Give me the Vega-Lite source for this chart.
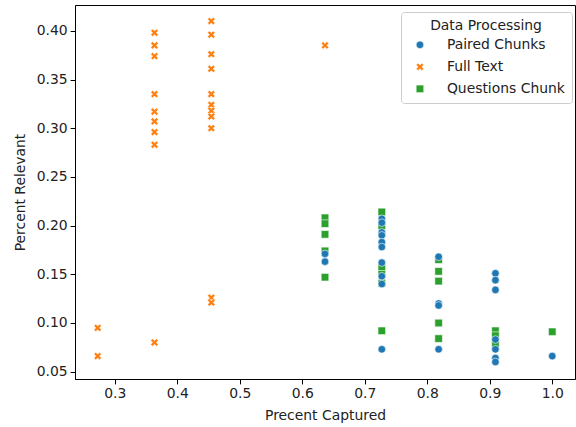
{
  "$schema": "https://vega.github.io/schema/vega-lite/v6.json",
  "width": 500,
  "height": 374,
  "autosize": "none",
  "padding": {"left": 75, "top": 5, "right": 1, "bottom": 48},
  "config": {
    "view": {"stroke": "black", "strokeWidth": 1},
    "font": "DejaVu Sans",
    "axis": {
      "grid": false,
      "domainColor": "black",
      "tickColor": "black",
      "tickSize": 4.9,
      "labelFontSize": 13.9,
      "labelColor": "#222",
      "titleFontSize": 13.9,
      "titleFontWeight": "normal",
      "titleColor": "#222",
      "labelFont": "DejaVu Sans",
      "titleFont": "DejaVu Sans",
      "labelPadding": 3
    },
    "legend": {
      "labelFont": "DejaVu Sans",
      "titleFont": "DejaVu Sans"
    }
  },
  "data": {
    "values": [
      {"captured": 0.6364, "relevant": 0.208, "method": "Questions Chunk"},
      {"captured": 0.6364, "relevant": 0.202, "method": "Questions Chunk"},
      {"captured": 0.6364, "relevant": 0.191, "method": "Questions Chunk"},
      {"captured": 0.6364, "relevant": 0.174, "method": "Questions Chunk"},
      {"captured": 0.6364, "relevant": 0.147, "method": "Questions Chunk"},
      {"captured": 0.7273, "relevant": 0.214, "method": "Questions Chunk"},
      {"captured": 0.7273, "relevant": 0.200, "method": "Questions Chunk"},
      {"captured": 0.7273, "relevant": 0.157, "method": "Questions Chunk"},
      {"captured": 0.7273, "relevant": 0.150, "method": "Questions Chunk"},
      {"captured": 0.7273, "relevant": 0.141, "method": "Questions Chunk"},
      {"captured": 0.7273, "relevant": 0.092, "method": "Questions Chunk"},
      {"captured": 0.8182, "relevant": 0.165, "method": "Questions Chunk"},
      {"captured": 0.8182, "relevant": 0.153, "method": "Questions Chunk"},
      {"captured": 0.8182, "relevant": 0.143, "method": "Questions Chunk"},
      {"captured": 0.8182, "relevant": 0.100, "method": "Questions Chunk"},
      {"captured": 0.8182, "relevant": 0.084, "method": "Questions Chunk"},
      {"captured": 0.9091, "relevant": 0.092, "method": "Questions Chunk"},
      {"captured": 0.9091, "relevant": 0.087, "method": "Questions Chunk"},
      {"captured": 0.9091, "relevant": 0.078, "method": "Questions Chunk"},
      {"captured": 1.0, "relevant": 0.091, "method": "Questions Chunk"},
      {"captured": 0.6364, "relevant": 0.171, "method": "Paired Chunks"},
      {"captured": 0.6364, "relevant": 0.163, "method": "Paired Chunks"},
      {"captured": 0.7273, "relevant": 0.207, "method": "Paired Chunks"},
      {"captured": 0.7273, "relevant": 0.203, "method": "Paired Chunks"},
      {"captured": 0.7273, "relevant": 0.193, "method": "Paired Chunks"},
      {"captured": 0.7273, "relevant": 0.190, "method": "Paired Chunks"},
      {"captured": 0.7273, "relevant": 0.183, "method": "Paired Chunks"},
      {"captured": 0.7273, "relevant": 0.178, "method": "Paired Chunks"},
      {"captured": 0.7273, "relevant": 0.162, "method": "Paired Chunks"},
      {"captured": 0.7273, "relevant": 0.148, "method": "Paired Chunks"},
      {"captured": 0.7273, "relevant": 0.140, "method": "Paired Chunks"},
      {"captured": 0.7273, "relevant": 0.073, "method": "Paired Chunks"},
      {"captured": 0.8182, "relevant": 0.168, "method": "Paired Chunks"},
      {"captured": 0.8182, "relevant": 0.120, "method": "Paired Chunks"},
      {"captured": 0.8182, "relevant": 0.118, "method": "Paired Chunks"},
      {"captured": 0.8182, "relevant": 0.073, "method": "Paired Chunks"},
      {"captured": 0.9091, "relevant": 0.151, "method": "Paired Chunks"},
      {"captured": 0.9091, "relevant": 0.144, "method": "Paired Chunks"},
      {"captured": 0.9091, "relevant": 0.134, "method": "Paired Chunks"},
      {"captured": 0.9091, "relevant": 0.083, "method": "Paired Chunks"},
      {"captured": 0.9091, "relevant": 0.073, "method": "Paired Chunks"},
      {"captured": 0.9091, "relevant": 0.064, "method": "Paired Chunks"},
      {"captured": 0.9091, "relevant": 0.060, "method": "Paired Chunks"},
      {"captured": 1.0, "relevant": 0.066, "method": "Paired Chunks"},
      {"captured": 0.2727, "relevant": 0.095, "method": "Full Text"},
      {"captured": 0.2727, "relevant": 0.066, "method": "Full Text"},
      {"captured": 0.3636, "relevant": 0.398, "method": "Full Text"},
      {"captured": 0.3636, "relevant": 0.385, "method": "Full Text"},
      {"captured": 0.3636, "relevant": 0.374, "method": "Full Text"},
      {"captured": 0.3636, "relevant": 0.335, "method": "Full Text"},
      {"captured": 0.3636, "relevant": 0.317, "method": "Full Text"},
      {"captured": 0.3636, "relevant": 0.307, "method": "Full Text"},
      {"captured": 0.3636, "relevant": 0.296, "method": "Full Text"},
      {"captured": 0.3636, "relevant": 0.283, "method": "Full Text"},
      {"captured": 0.3636, "relevant": 0.080, "method": "Full Text"},
      {"captured": 0.4545, "relevant": 0.410, "method": "Full Text"},
      {"captured": 0.4545, "relevant": 0.396, "method": "Full Text"},
      {"captured": 0.4545, "relevant": 0.376, "method": "Full Text"},
      {"captured": 0.4545, "relevant": 0.361, "method": "Full Text"},
      {"captured": 0.4545, "relevant": 0.335, "method": "Full Text"},
      {"captured": 0.4545, "relevant": 0.324, "method": "Full Text"},
      {"captured": 0.4545, "relevant": 0.318, "method": "Full Text"},
      {"captured": 0.4545, "relevant": 0.312, "method": "Full Text"},
      {"captured": 0.4545, "relevant": 0.300, "method": "Full Text"},
      {"captured": 0.4545, "relevant": 0.126, "method": "Full Text"},
      {"captured": 0.4545, "relevant": 0.121, "method": "Full Text"},
      {"captured": 0.6364, "relevant": 0.385, "method": "Full Text"}
    ]
  },
  "mark": {"type": "point", "filled": true, "opacity": 1, "stroke": "white", "strokeWidth": 0.6},
  "encoding": {
    "x": {
      "field": "captured", "type": "quantitative",
      "scale": {"domain": [0.2364, 1.0364], "nice": false, "zero": false},
      "axis": {"values": [0.3, 0.4, 0.5, 0.6, 0.7, 0.8, 0.9, 1.0], "format": ".1f", "title": "Precent Captured", "titlePadding": 8}
    },
    "y": {
      "field": "relevant", "type": "quantitative",
      "scale": {"domain": [0.0425, 0.4265], "nice": false, "zero": false},
      "axis": {"values": [0.05, 0.10, 0.15, 0.20, 0.25, 0.30, 0.35, 0.40], "format": ".2f", "title": "Percent Relevant", "titlePadding": 9}
    },
    "color": {
      "field": "method", "type": "nominal",
      "scale": {"domain": ["Paired Chunks", "Full Text", "Questions Chunk"], "range": ["#1f77b4", "#ff7f0e", "#2ca02c"]},
      "legend": {
        "title": "Data Processing",
        "orient": "none",
        "legendX": 326,
        "legendY": 7,
        "padding": 7,
        "strokeColor": "#cccccc",
        "fillColor": "white",
        "cornerRadius": 3,
        "titleFontSize": 13.9,
        "titleFontWeight": "normal",
        "titleColor": "#222",
        "titleAnchor": "middle",
        "titlePadding": 5,
        "labelFontSize": 13.9,
        "labelColor": "#222",
        "rowPadding": 7,
        "symbolSize": 45,
        "symbolOffset": 5,
        "labelOffset": 20,
        "symbolStrokeWidth": 0.6
      }
    },
    "shape": {
      "field": "method", "type": "nominal",
      "scale": {"domain": ["Paired Chunks", "Full Text", "Questions Chunk"], "range": ["circle", "M-1,-0.5L-0.5,-1L0,-0.5L0.5,-1L1,-0.5L0.5,0L1,0.5L0.5,1L0,0.5L-0.5,1L-1,0.5L-0.5,0Z", "square"]}
    },
    "size": {
      "field": "method", "type": "nominal",
      "scale": {"domain": ["Paired Chunks", "Full Text", "Questions Chunk"], "range": [58, 58, 42]},
      "legend": null
    }
  }
}
